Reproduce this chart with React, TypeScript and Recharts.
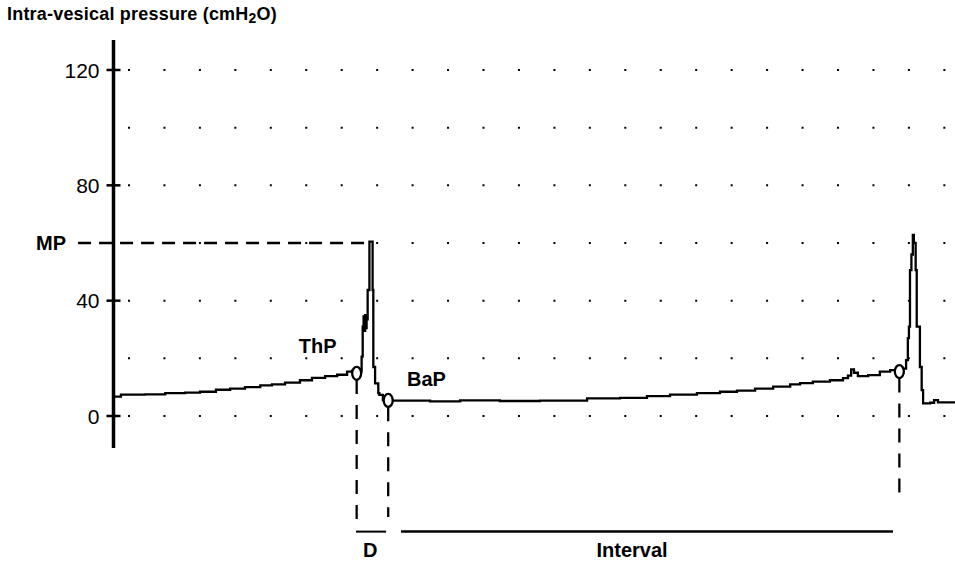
import React from "react"
import { LineChart, Line, XAxis, YAxis, CartesianGrid, ReferenceLine, ReferenceDot } from "recharts"

// time (s) and intra-vesical pressure (cmH2O)
const time = [
  -4.0, -2.3, 4.5, 10.2, 15.8, 20.0, 24.5, 28.5, 32.7, 37.0, 40.3, 44.0, 48.2, 51.6, 55.3, 58.7, 61.5, 62.9, 64.3,
  65.4, 65.6, 65.9, 66.15, 66.4, 66.6, 66.8, 67.0, 67.3, 67.8, 68.4, 68.7, 68.9, 69.4, 70.3, 70.6, 71.6, 73.1,
  76.4, 84.9, 93.4, 104.6, 115.9, 129.2, 138.5, 146.1, 152.6, 160.2, 166.7, 171.5, 176.6, 181.7, 186.5, 189.3,
  192.9, 197.7, 201.4, 202.8, 203.7, 204.5, 205.6, 208.5, 211.8, 214.7, 217.2,
  219.2, 219.7, 220.0, 220.3, 220.7, 221.1, 221.4, 221.9, 222.2, 223.1, 223.6, 224.0, 226.0, 227.1, 228.2, 233.0,
]
const pressure = [
  6.7, 7.4, 7.5, 7.9, 8.1, 8.4, 9.1, 9.5, 10.0, 10.6, 11.0, 11.6, 12.4, 13.2, 13.8, 14.3, 15.4, 15.7, 15.0,
  15.5, 20.6, 31.0, 34.5, 29.5, 35.0, 30.5, 33.5, 43.7, 60.5, 60.5, 43.7, 17.0, 11.3, 7.9, 7.3, 5.5, 5.3,
  5.3, 5.1, 5.4, 5.2, 5.3, 6.1, 6.3, 6.9, 7.4, 7.9, 8.4, 8.8, 9.5, 10.2, 11.0, 11.4,
  11.9, 12.4, 13.1, 14.0, 16.2, 15.0, 13.8, 14.2, 15.4, 15.9, 16.4,
  19.4, 27.0, 31.0, 50.6, 56.0, 62.8, 60.0, 50.6, 31.0, 17.0, 9.0, 4.4, 4.6, 5.5, 4.7, 4.4,
]

const yTicks = [0, 40, 80, 120]
const gridValues = [0, 20, 40, 60, 80, 100, 120]

// events
const thp = { t: 64.2, p: 14.8 }
const bap = { t: 73.1, p: 5.4 }
const nextThp = { t: 217.3, p: 15.4 }
const mp = 60
const peakTime = 68.0

const data = time.map((t, i) => ({ t, p: pressure[i] }))

const FONT = "'Liberation Sans', Arial, Helvetica, sans-serif"

const YTick = (props: any) => {
  const { x, y, payload } = props
  return (
    <g>
      <line x1={x - 7} x2={x + 7} y1={y} y2={y} stroke="#000" strokeWidth={2.5} />
      <text x={x - 14} y={y} dy="0.36em" textAnchor="end" fontSize={21} fontFamily={FONT} fill="#000">
        {payload.value}
      </text>
    </g>
  )
}

const Ring = (props: any) => (
  <ellipse cx={props.cx} cy={props.cy} rx={4.5} ry={6.5} fill="#fff" stroke="#000" strokeWidth={2.3} />
)

const textMark = (label: string, anchor: "start" | "middle" | "end" = "middle") => (props: any) => (
  <text x={props.cx} y={props.cy} textAnchor={anchor} fontSize={20} fontWeight="bold" fontFamily={FONT} fill="#000">
    {label}
  </text>
)

const dash = { stroke: "#000", strokeWidth: 2.3, strokeDasharray: "14 11" }

export default function App() {
  return (
    <div style={{ position: "absolute", left: 0, top: 0, width: 955, height: 563, background: "#fff" }}>
      <div
        style={{
          position: "absolute",
          left: 7,
          top: 4,
          fontFamily: FONT,
          fontWeight: "bold",
          fontSize: 18,
          letterSpacing: 0.2,
          color: "#000",
          whiteSpace: "nowrap",
        }}
      >
        Intra-vesical pressure (cmH
        <span style={{ fontSize: 14, position: "relative", top: 3 }}>2</span>O)
      </div>
      <LineChart width={955} height={563} data={data} margin={{ top: 40, right: 0, bottom: 115, left: 0 }}>
        <CartesianGrid
          horizontal
          vertical={false}
          horizontalValues={gridValues}
          stroke="#000"
          strokeWidth={2}
          strokeDasharray="2 33.45"
          strokeDashoffset={20.95}
        />
        <XAxis type="number" dataKey="t" domain={[-4.4, 233]} hide allowDataOverflow />
        <YAxis
          type="number"
          domain={[-11.1, 130.4]}
          ticks={yTicks}
          width={113.5}
          axisLine={{ stroke: "#000", strokeWidth: 3.5 }}
          tickLine={false}
          tickSize={0}
          tickMargin={0}
          tick={<YTick />}
          allowDataOverflow
        />
        <ReferenceLine
          segment={[{ x: -14.4, y: mp }, { x: peakTime, y: mp }]}
          ifOverflow="visible"
          stroke="#000"
          strokeWidth={2.5}
          strokeDasharray="13 8"
        />
        <ReferenceLine segment={[{ x: thp.t, y: 12.5 }, { x: thp.t, y: -36 }]} ifOverflow="visible" {...dash} />
        <ReferenceLine segment={[{ x: bap.t, y: 3 }, { x: bap.t, y: -35 }]} ifOverflow="visible" {...dash} />
        <ReferenceLine segment={[{ x: nextThp.t, y: 13 }, { x: nextThp.t, y: -29 }]} ifOverflow="visible" {...dash} />
        <ReferenceLine
          segment={[{ x: 64.0, y: -40.1 }, { x: 72.5, y: -40.1 }]}
          ifOverflow="visible"
          stroke="#000"
          strokeWidth={2}
        />
        <ReferenceLine
          segment={[{ x: 76.7, y: -40.1 }, { x: 215.5, y: -40.1 }]}
          ifOverflow="visible"
          stroke="#000"
          strokeWidth={2.5}
        />
        <Line
          type="stepAfter"
          dataKey="p"
          stroke="#000"
          strokeWidth={2.3}
          dot={false}
          activeDot={false}
          isAnimationActive={false}
        />
        <ReferenceDot x={thp.t} y={thp.p} ifOverflow="visible" shape={Ring} />
        <ReferenceDot x={bap.t} y={bap.p} ifOverflow="visible" shape={Ring} />
        <ReferenceDot x={nextThp.t} y={nextThp.p} ifOverflow="visible" shape={Ring} />
        <ReferenceDot x={-17.8} y={57.6} ifOverflow="visible" shape={textMark("MP", "end")} />
        <ReferenceDot x={53.2} y={22.0} ifOverflow="visible" shape={textMark("ThP")} />
        <ReferenceDot x={83.9} y={10.4} ifOverflow="visible" shape={textMark("BaP")} />
        <ReferenceDot x={68.0} y={-48.8} ifOverflow="visible" shape={textMark("D")} />
        <ReferenceDot x={141.9} y={-48.8} ifOverflow="visible" shape={textMark("Interval")} />
      </LineChart>
    </div>
  )
}
